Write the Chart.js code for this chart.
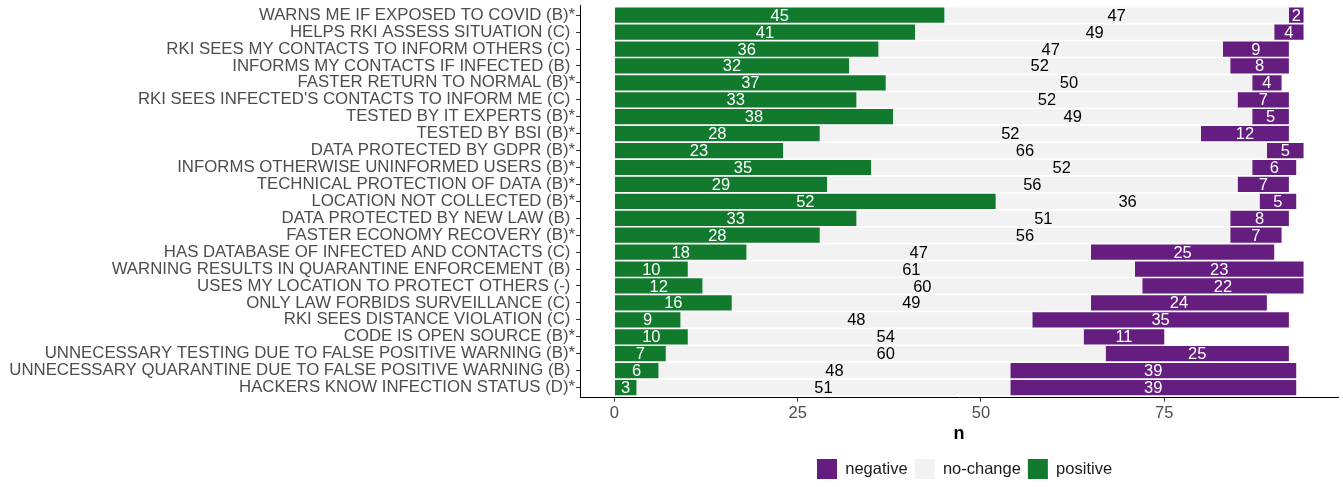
<!DOCTYPE html>
<html>
<head>
<meta charset="utf-8">
<script src="https://cdn.jsdelivr.net/npm/chart.js@4.4.1/dist/chart.umd.min.js"></script>
<style>
  body { margin: 0; background: #fff; }
</style>
</head>
<body>
<canvas id="myChart" width="1343" height="487"></canvas>
<script>
// statements, top to bottom (trailing space where the original has no asterisk)
const categories = [
  'WARNS ME IF EXPOSED TO COVID (B)*',
  'HELPS RKI ASSESS SITUATION (C) ',
  'RKI SEES MY CONTACTS TO INFORM OTHERS (C) ',
  'INFORMS MY CONTACTS IF INFECTED (B) ',
  'FASTER RETURN TO NORMAL (B)*',
  "RKI SEES INFECTED'S CONTACTS TO INFORM ME (C) ",
  'TESTED BY IT EXPERTS (B)*',
  'TESTED BY BSI (B)*',
  'DATA PROTECTED BY GDPR (B)*',
  'INFORMS OTHERWISE UNINFORMED USERS (B)*',
  'TECHNICAL PROTECTION OF DATA (B)*',
  'LOCATION NOT COLLECTED (B)*',
  'DATA PROTECTED BY NEW LAW (B) ',
  'FASTER ECONOMY RECOVERY (B)*',
  'HAS DATABASE OF INFECTED AND CONTACTS (C) ',
  'WARNING RESULTS IN QUARANTINE ENFORCEMENT (B) ',
  'USES MY LOCATION TO PROTECT OTHERS (-) ',
  'ONLY LAW FORBIDS SURVEILLANCE (C) ',
  'RKI SEES DISTANCE VIOLATION (C) ',
  'CODE IS OPEN SOURCE (B)*',
  'UNNECESSARY TESTING DUE TO FALSE POSITIVE WARNING (B)*',
  'UNNECESSARY QUARANTINE DUE TO FALSE POSITIVE WARNING (B) ',
  'HACKERS KNOW INFECTION STATUS (D)*'
];
const positive = [45, 41, 36, 32, 37, 33, 38, 28, 23, 35, 29, 52, 33, 28, 18, 10, 12, 16, 9, 10, 7, 6, 3];
const noChange = [47, 49, 47, 52, 50, 52, 49, 52, 66, 52, 56, 36, 51, 56, 47, 61, 60, 49, 48, 54, 60, 48, 51];
const negative = [2, 4, 9, 8, 4, 7, 5, 12, 5, 6, 7, 5, 8, 7, 25, 23, 22, 24, 35, 11, 25, 39, 39];
const xTicks = [0, 25, 50, 75];

const FONT = '"Liberation Sans", Arial, sans-serif';

function toPoints(values) {
  return values.map((v, i) => ({ x: v, y: i }));
}

// numbers in the middle of each segment
const valueLabels = {
  id: 'valueLabels',
  afterDatasetsDraw(chart) {
    const ctx = chart.ctx;
    ctx.save();
    ctx.font = '16.5px ' + FONT;
    ctx.textAlign = 'center';
    ctx.textBaseline = 'middle';
    chart.data.datasets.forEach((ds, i) => {
      chart.getDatasetMeta(i).data.forEach((bar, j) => {
        ctx.fillStyle = ds.textColor;
        ctx.fillText(ds.data[j].x, (bar.x + bar.base) / 2, bar.y + 1);
      });
    });
    ctx.restore();
  }
};

// put the legend under the panel like ggplot does
const legendPlacement = {
  id: 'legendPlacement',
  afterLayout(chart) {
    const lg = chart.legend;
    const pad = lg.options.labels.padding;
    const h = lg.bottom - lg.top;
    lg.left = 817 - pad;
    lg.right = 817 + lg.lineWidths[0];
    lg.top = 459 - pad;
    lg.bottom = lg.top + h;
  }
};

const ctx = document.getElementById('myChart').getContext('2d');

new Chart(ctx, {
  type: 'bar',
  data: {
    datasets: [
      { label: 'positive', data: toPoints(positive), backgroundColor: '#127a2d', textColor: '#ffffff' },
      { label: 'no-change', data: toPoints(noChange), backgroundColor: '#f2f2f2', textColor: '#000000' },
      { label: 'negative', data: toPoints(negative), backgroundColor: '#661d80', textColor: '#ffffff' }
    ]
  },
  options: {
    indexAxis: 'y',
    responsive: false,
    animation: false,
    devicePixelRatio: 1,
    barPercentage: 0.9,
    categoryPercentage: 1,
    layout: { padding: { top: 5, right: 5, left: 0, bottom: 6.5 } },
    scales: {
      x: {
        type: 'linear',
        stacked: true,
        min: -4.7,
        max: 98.7,
        afterBuildTicks: s => { s.ticks = xTicks.map(v => ({ value: v })); },
        afterFit: s => { s.paddingLeft = 0; s.paddingRight = 0; },
        grid: { drawOnChartArea: false, drawTicks: true, tickLength: 4, tickColor: '#333333' },
        border: { display: true, color: '#000000', width: 1 },
        ticks: { color: '#4d4d4d', font: { family: FONT, size: 16.5 }, padding: 2, maxRotation: 0 },
        title: { display: true, text: 'n', color: '#000000', font: { family: FONT, size: 18, weight: 'bold', lineHeight: 1 }, padding: { top: 0, bottom: 0 } }
      },
      y: {
        type: 'linear',
        stacked: true,
        reverse: true,
        offset: false,
        bounds: 'data',
        min: -0.6,
        max: 22.6,
        afterBuildTicks: s => { s.ticks = categories.map((c, i) => ({ value: i })); },
        afterFit: s => { s.width = 580; s.paddingTop = 0; s.paddingBottom = 0; },
        grid: { offset: false, drawOnChartArea: false, drawTicks: true, tickLength: 4, tickColor: '#333333' },
        border: { display: true, color: '#000000', width: 1 },
        ticks: {
          autoSkip: false,
          color: '#4d4d4d',
          padding: 1,
          font: { family: FONT, size: 16.8 },
          callback: v => categories[v]
        }
      }
    },
    plugins: {
      legend: {
        position: 'bottom',
        reverse: true,
        labels: {
          boxWidth: 20,
          boxHeight: 20,
          padding: 7,
          color: '#1a1a1a',
          font: { family: FONT, size: 16.5 }
        }
      },
      tooltip: { enabled: false }
    }
  },
  plugins: [valueLabels, legendPlacement]
});
</script>
</body>
</html>
